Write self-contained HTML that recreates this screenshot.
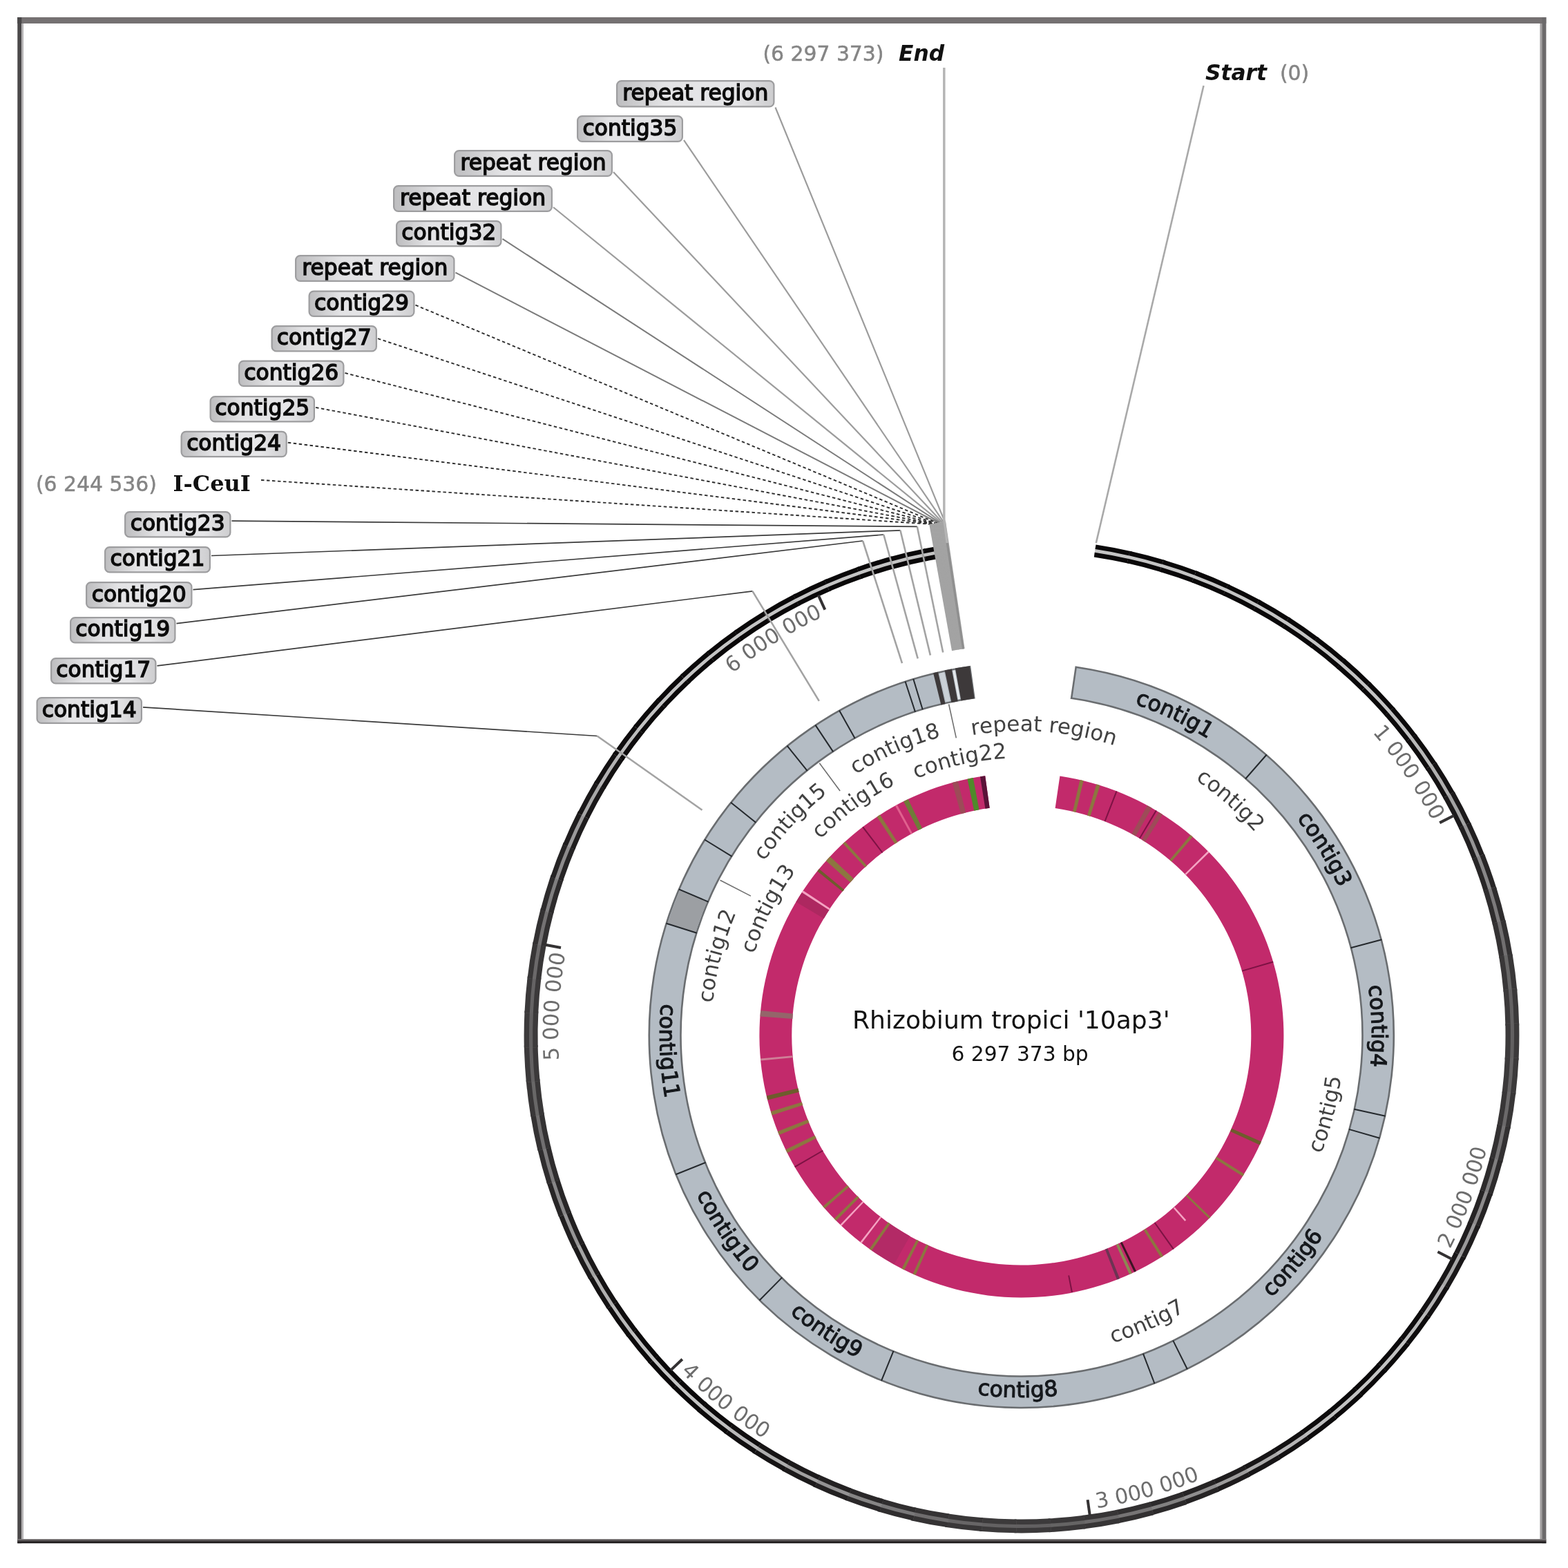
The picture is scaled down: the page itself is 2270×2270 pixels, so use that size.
<!DOCTYPE html>
<html lang="en"><head><meta charset="utf-8"><title>Rhizobium tropici '10ap3' genome map</title>
<style>
html,body{margin:0;padding:0;background:#fff;}
body{width:2270px;height:2270px;overflow:hidden;}
svg{display:block;}
text{font-family:"DejaVu Sans","Liberation Sans",sans-serif;fill:#111;}
.tick{font-size:30.5px;fill:#6d6d6d;}
.ringlab{font-size:31.5px;fill:#15181c;stroke:#15181c;stroke-width:1.1px;}
.inlab{font-size:31px;fill:#424242;}
.lab{font-size:31.3px;fill:#0c0c0c;stroke:#0c0c0c;stroke-width:1.5px;}
.pos{font-size:29.8px;fill:#858585;stroke:#858585;stroke-width:0.5px;}
.enz{font-size:32px;font-weight:bold;fill:#111;font-family:"DejaVu Serif","Liberation Serif",serif;}
.se{font-size:31.3px;font-weight:bold;font-style:italic;fill:#111;}
</style></head>
<body>
<svg width="2270" height="2270" viewBox="0 0 2270 2270">
<defs>
<linearGradient id="fb" x1="0" y1="0" x2="0" y2="1"><stop offset="0" stop-color="#8a8687"/><stop offset="0.55" stop-color="#3a3637"/><stop offset="1" stop-color="#0c0a0b"/></linearGradient>
<path id="tk1" d="M1844.8 936.5A671 671 0 0 1 2073.8 1188.5"/>
<path id="tk2" d="M2099.1 1808.4A693 693 0 0 0 2171.3 1468.4"/>
<path id="tk3" d="M1587.9 2183.4A693 693 0 0 0 1906.5 2044.4"/>
<path id="tk4" d="M985.6 1985.7A693 693 0 0 0 1284 2164"/>
<path id="tk5" d="M845.4 1719.9A671 671 0 0 1 818.6 1380.4"/>
<path id="tk6" d="M930.8 1112.1A671 671 0 0 1 1191.3 892.8"/>
<path id="rl0" d="M1527.6 994.3A507 507 0 0 1 1840.6 1143.6"/>
<path id="rl1" d="M1793.9 1101.7A507 507 0 0 1 1975.6 1397.1"/>
<path id="rl2" d="M1950.7 1313.2A507 507 0 0 1 1959.8 1659.9"/>
<path id="rl3" d="M1741 1952.8A524 524 0 0 0 1971.4 1678.2"/>
<path id="rl4" d="M1294.6 1989.5A524 524 0 0 0 1653.1 1993.2"/>
<path id="rl5" d="M1058.3 1811.4A524 524 0 0 0 1357.6 2008.7"/>
<path id="rl6" d="M969.7 1622.2A524 524 0 0 0 1168 1920.8"/>
<path id="rl7" d="M979.3 1341.4A524 524 0 0 0 994.9 1699.5"/>
<path id="il0" d="M1322.5 1087A440.7 440.7 0 0 1 1694 1114.3"/>
<path id="il1" d="M1606.9 1070A447.7 447.7 0 0 1 1889.9 1321.2"/>
<path id="il2" d="M1838.8 1795.6A466.3 466.3 0 0 0 1937.5 1414"/>
<path id="il3" d="M1467.7 1963.2A464.3 464.3 0 0 0 1827.3 1806"/>
<path id="il4" d="M1036.7 1580.2A449.7 449.7 0 0 1 1132.5 1212.4"/>
<path id="il5" d="M1074.4 1488.4A404.7 404.7 0 0 1 1227.1 1182.3"/>
<path id="il6" d="M1050.6 1362.3A449.7 449.7 0 0 1 1308.4 1082.9"/>
<path id="il7" d="M1122.6 1303.1A406.7 406.7 0 0 1 1400 1100"/>
<path id="il8" d="M1142.1 1204.1A447.7 447.7 0 0 1 1488.4 1051.4"/>
<path id="il9" d="M1233.3 1181.2A401.7 401.7 0 0 1 1564.6 1106.5"/>
<linearGradient id="lg" x1="0" y1="0" x2="1" y2="0"><stop offset="0" stop-color="#bdbdbf"/><stop offset="0.3" stop-color="#e3e3e5"/><stop offset="0.75" stop-color="#e6e6e8"/><stop offset="1" stop-color="#cdcdcf"/></linearGradient>
</defs>
<rect width="2270" height="2270" fill="#fff"/>
<g id="frame">
<rect x="25" y="25" width="2213.4" height="9" fill="#757172"/>
<rect x="25.3" y="25" width="6" height="2209.2" fill="#4a4849"/>
<rect x="31.3" y="34" width="2.7" height="2194" fill="#b4b2b3"/>
<rect x="2229.4" y="34" width="3.2" height="2194" fill="#a19e9f"/>
<rect x="2232.4" y="25" width="6" height="2209.2" fill="#6c6a6b"/>
<rect x="25.3" y="2228" width="2213.1" height="6.2" fill="url(#fb)"/>
</g>
<g id="backbone" fill="none">
<path d="M1585.1 797.4A709.5 709.5 0 0 1 1636.8 807.2" stroke="#c4c4c4" stroke-width="14.1"/>
<path d="M1586 791.8A715.2 715.2 0 0 1 1638.1 801.7" stroke="#0a0809" stroke-width="6.7"/>
<path d="M1584.3 803.1A703.9 703.9 0 0 1 1635.5 812.8" stroke="#0a0809" stroke-width="6.7"/>
<path d="M1633.8 806.5A709.5 709.5 0 0 1 1684.7 819.9" stroke="#c4c4c4" stroke-width="14.1"/>
<path d="M1635 801A715.2 715.2 0 0 1 1686.3 814.5" stroke="#0a0809" stroke-width="6.7"/>
<path d="M1632.5 812.1A703.9 703.9 0 0 1 1683 825.4" stroke="#0a0809" stroke-width="6.7"/>
<path d="M1681.7 819A709.5 709.5 0 0 1 1731.5 835.9" stroke="#c4c4c4" stroke-width="14.1"/>
<path d="M1683.3 813.6A715.2 715.2 0 0 1 1733.6 830.6" stroke="#0a0809" stroke-width="6.7"/>
<path d="M1680.1 824.5A703.9 703.9 0 0 1 1729.5 841.2" stroke="#0a0809" stroke-width="6.7"/>
<path d="M1728.6 834.8A709.5 709.5 0 0 1 1777.2 855.1" stroke="#c4c4c4" stroke-width="14.1"/>
<path d="M1730.7 829.5A715.2 715.2 0 0 1 1779.6 850" stroke="#0a0809" stroke-width="6.7"/>
<path d="M1726.6 840.2A703.9 703.9 0 0 1 1774.8 860.3" stroke="#0a0809" stroke-width="6.7"/>
<path d="M1774.4 853.9A709.5 709.5 0 0 1 1821.4 877.5" stroke="#c4c4c4" stroke-width="14.1"/>
<path d="M1776.7 848.7A715.2 715.2 0 0 1 1824.1 872.5" stroke="#0a0809" stroke-width="6.7"/>
<path d="M1772 859A703.9 703.9 0 0 1 1818.6 882.5" stroke="#0a0809" stroke-width="6.7"/>
<path d="M1818.7 876A709.5 709.5 0 0 1 1863.9 902.9" stroke="#c4c4c4" stroke-width="14.1"/>
<path d="M1821.4 871A715.2 715.2 0 0 1 1867 898.1" stroke="#0a0809" stroke-width="6.7"/>
<path d="M1815.9 881A703.9 703.9 0 0 1 1860.8 907.7" stroke="#0a0809" stroke-width="6.7"/>
<path d="M1861.3 901.2A709.5 709.5 0 0 1 1904.5 931.2" stroke="#c4c4c4" stroke-width="14.1"/>
<path d="M1864.4 896.4A715.2 715.2 0 0 1 1908 926.7" stroke="#0a0809" stroke-width="6.7"/>
<path d="M1858.2 906A703.9 703.9 0 0 1 1901.1 935.8" stroke="#0a0809" stroke-width="6.7"/>
<path d="M1902.1 929.4A709.5 709.5 0 0 1 1943.1 962.3" stroke="#c4c4c4" stroke-width="14.1"/>
<path d="M1905.4 924.8A715.2 715.2 0 0 1 1946.8 958" stroke="#0a0809" stroke-width="6.7"/>
<path d="M1898.7 933.9A703.9 703.9 0 0 1 1939.4 966.6" stroke="#0a0809" stroke-width="6.7"/>
<path d="M1940.8 960.3A709.5 709.5 0 0 1 1979.4 996" stroke="#c4c4c4" stroke-width="14.1"/>
<path d="M1944.5 955.9A715.2 715.2 0 0 1 1983.4 991.9" stroke="#0a0809" stroke-width="6.7"/>
<path d="M1937 964.6A703.9 703.9 0 0 1 1975.4 1000" stroke="#0a0809" stroke-width="6.7"/>
<path d="M1977.2 993.8A709.6 709.6 0 0 1 2013.3 1032.1" stroke="#c4c4c4" stroke-width="14.1"/>
<path d="M1981.2 989.7A715.3 715.3 0 0 1 2017.6 1028.3" stroke="#0a0809" stroke-width="6.7"/>
<path d="M1973.2 997.8A703.9 703.9 0 0 1 2009 1035.8" stroke="#0a0809" stroke-width="6.7"/>
<path d="M2011.3 1029.7A709.6 709.6 0 0 1 2044.6 1070.5" stroke="#c0c0c0" stroke-width="14.2"/>
<path d="M2015.6 1026A715.3 715.3 0 0 1 2049.1 1067" stroke="#0c0a0b" stroke-width="6.7"/>
<path d="M2007 1033.5A703.9 703.9 0 0 1 2040 1073.9" stroke="#0c0a0b" stroke-width="6.7"/>
<path d="M2042.8 1068A709.6 709.6 0 0 1 2073.1 1110.9" stroke="#b9b9b9" stroke-width="14.3"/>
<path d="M2047.3 1064.5A715.4 715.4 0 0 1 2078 1107.8" stroke="#0f0d0e" stroke-width="6.8"/>
<path d="M2038.2 1071.5A703.9 703.9 0 0 1 2068.3 1114.1" stroke="#0f0d0e" stroke-width="6.8"/>
<path d="M2071.5 1108.3A709.7 709.7 0 0 1 2098.8 1153.3" stroke="#b0afaf" stroke-width="14.5"/>
<path d="M2076.4 1105.1A715.6 715.6 0 0 1 2103.9 1150.5" stroke="#141213" stroke-width="6.8"/>
<path d="M2066.7 1111.5A703.9 703.9 0 0 1 2093.8 1156.1" stroke="#141213" stroke-width="6.8"/>
<path d="M2097.4 1150.5A709.8 709.8 0 0 1 2121.6 1197.3" stroke="#a3a3a3" stroke-width="14.7"/>
<path d="M2102.6 1147.6A715.7 715.7 0 0 1 2126.9 1194.8" stroke="#1b191a" stroke-width="6.9"/>
<path d="M2092.3 1153.4A704 704 0 0 1 2116.2 1199.8" stroke="#1b191a" stroke-width="6.9"/>
<path d="M2120.3 1194.5A710 710 0 0 1 2141.1 1242.8" stroke="#969596" stroke-width="14.9"/>
<path d="M2125.7 1191.9A715.9 715.9 0 0 1 2146.7 1240.7" stroke="#211f20" stroke-width="7"/>
<path d="M2115 1197A704 704 0 0 1 2135.6 1245" stroke="#211f20" stroke-width="7"/>
<path d="M2140.1 1239.9A710.1 710.1 0 0 1 2157.5 1289.6" stroke="#888788" stroke-width="15.2"/>
<path d="M2145.8 1237.7A716.1 716.1 0 0 1 2163.3 1287.8" stroke="#282627" stroke-width="7.1"/>
<path d="M2134.5 1242.1A704.1 704.1 0 0 1 2151.8 1291.4" stroke="#282627" stroke-width="7.1"/>
<path d="M2156.7 1286.6A710.2 710.2 0 0 1 2170.6 1337.4" stroke="#7c7a7b" stroke-width="15.4"/>
<path d="M2162.5 1284.8A716.3 716.3 0 0 1 2176.5 1336" stroke="#2f2d2e" stroke-width="7.2"/>
<path d="M2150.9 1288.4A704.1 704.1 0 0 1 2164.6 1338.8" stroke="#2f2d2e" stroke-width="7.2"/>
<path d="M2170 1334.4A710.3 710.3 0 0 1 2180.3 1386" stroke="#716f70" stroke-width="15.6"/>
<path d="M2176 1333A716.5 716.5 0 0 1 2186.4 1385.1" stroke="#343233" stroke-width="7.3"/>
<path d="M2164 1335.8A704.1 704.1 0 0 1 2174.2 1387" stroke="#343233" stroke-width="7.3"/>
<path d="M2179.9 1383A710.4 710.4 0 0 1 2186.5 1435.2" stroke="#686767" stroke-width="15.8"/>
<path d="M2186 1382A716.6 716.6 0 0 1 2192.7 1434.7" stroke="#393738" stroke-width="7.4"/>
<path d="M2173.7 1384A704.2 704.2 0 0 1 2180.3 1435.8" stroke="#393738" stroke-width="7.4"/>
<path d="M2186.3 1432.1A710.4 710.4 0 0 1 2189.3 1484.7" stroke="#636162" stroke-width="15.9"/>
<path d="M2192.5 1431.6A716.7 716.7 0 0 1 2195.5 1484.6" stroke="#3b393a" stroke-width="7.4"/>
<path d="M2180.1 1432.7A704.2 704.2 0 0 1 2183.1 1484.9" stroke="#3b393a" stroke-width="7.4"/>
<path d="M2189.2 1481.6A710.4 710.4 0 0 1 2188.6 1534.3" stroke="#626061" stroke-width="15.9"/>
<path d="M2195.5 1481.5A716.7 716.7 0 0 1 2194.8 1534.6" stroke="#3c3a3b" stroke-width="7.4"/>
<path d="M2183 1481.8A704.2 704.2 0 0 1 2182.3 1534" stroke="#3c3a3b" stroke-width="7.4"/>
<path d="M2188.7 1531.2A710.4 710.4 0 0 1 2184.4 1583.7" stroke="#656364" stroke-width="15.9"/>
<path d="M2194.9 1531.5A716.7 716.7 0 0 1 2190.5 1584.5" stroke="#3b393a" stroke-width="7.4"/>
<path d="M2182.5 1530.9A704.2 704.2 0 0 1 2178.2 1583" stroke="#3b393a" stroke-width="7.4"/>
<path d="M2184.7 1580.6A710.4 710.4 0 0 1 2176.7 1632.7" stroke="#6b696a" stroke-width="15.7"/>
<path d="M2190.8 1581.4A716.6 716.6 0 0 1 2182.8 1633.9" stroke="#383637" stroke-width="7.3"/>
<path d="M2178.5 1579.9A704.2 704.2 0 0 1 2170.6 1631.6" stroke="#383637" stroke-width="7.3"/>
<path d="M2177.2 1629.7A710.3 710.3 0 0 1 2165.6 1681" stroke="#747273" stroke-width="15.6"/>
<path d="M2183.2 1630.8A716.4 716.4 0 0 1 2171.5 1682.6" stroke="#333132" stroke-width="7.3"/>
<path d="M2171.1 1628.5A704.1 704.1 0 0 1 2159.6 1679.5" stroke="#333132" stroke-width="7.3"/>
<path d="M2166.2 1678A710.2 710.2 0 0 1 2151.1 1728.5" stroke="#7f7e7f" stroke-width="15.4"/>
<path d="M2172.1 1679.5A716.3 716.3 0 0 1 2156.9 1730.4" stroke="#2d2b2c" stroke-width="7.2"/>
<path d="M2160.4 1676.5A704.1 704.1 0 0 1 2145.3 1726.5" stroke="#2d2b2c" stroke-width="7.2"/>
<path d="M2152 1725.5A710.1 710.1 0 0 1 2133.3 1774.7" stroke="#8d8b8c" stroke-width="15.1"/>
<path d="M2157.7 1727.4A716.1 716.1 0 0 1 2138.9 1777.1" stroke="#262425" stroke-width="7.1"/>
<path d="M2146.3 1723.6A704 704 0 0 1 2127.8 1772.4" stroke="#262425" stroke-width="7.1"/>
<path d="M2134.4 1771.8A709.9 709.9 0 0 1 2112.4 1819.6" stroke="#9a999a" stroke-width="14.9"/>
<path d="M2139.9 1774.1A715.9 715.9 0 0 1 2117.7 1822.3" stroke="#1f1d1e" stroke-width="7"/>
<path d="M2128.9 1769.5A704 704 0 0 1 2107.1 1817" stroke="#1f1d1e" stroke-width="7"/>
<path d="M2113.7 1816.8A709.8 709.8 0 0 1 2088.4 1863" stroke="#a7a7a7" stroke-width="14.6"/>
<path d="M2118.9 1819.5A715.7 715.7 0 0 1 2093.4 1866" stroke="#191718" stroke-width="6.9"/>
<path d="M2108.4 1814.2A704 704 0 0 1 2083.4 1860" stroke="#191718" stroke-width="6.9"/>
<path d="M2089.9 1860.3A709.7 709.7 0 0 1 2061.4 1904.5" stroke="#b3b2b3" stroke-width="14.4"/>
<path d="M2094.9 1863.2A715.5 715.5 0 0 1 2066.2 1907.9" stroke="#131112" stroke-width="6.8"/>
<path d="M2084.9 1857.3A703.9 703.9 0 0 1 2056.7 1901.2" stroke="#131112" stroke-width="6.8"/>
<path d="M2063.1 1902A709.6 709.6 0 0 1 2031.6 1944.1" stroke="#bcbcbc" stroke-width="14.3"/>
<path d="M2067.8 1905.2A715.4 715.4 0 0 1 2036.1 1947.7" stroke="#0e0c0d" stroke-width="6.8"/>
<path d="M2058.4 1898.7A703.9 703.9 0 0 1 2027.2 1940.5" stroke="#0e0c0d" stroke-width="6.8"/>
<path d="M2033.5 1941.7A709.6 709.6 0 0 1 1999.2 1981.6" stroke="#c2c2c2" stroke-width="14.1"/>
<path d="M2038 1945.3A715.3 715.3 0 0 1 2003.4 1985.5" stroke="#0b090a" stroke-width="6.7"/>
<path d="M2029.1 1938.1A703.9 703.9 0 0 1 1995 1977.7" stroke="#0b090a" stroke-width="6.7"/>
<path d="M2001.3 1979.3A709.6 709.6 0 0 1 1964.3 2016.7" stroke="#c4c4c4" stroke-width="14.1"/>
<path d="M2005.5 1983.1A715.3 715.3 0 0 1 1968.2 2020.8" stroke="#0a0809" stroke-width="6.7"/>
<path d="M1997.1 1975.4A703.9 703.9 0 0 1 1960.4 2012.5" stroke="#0a0809" stroke-width="6.7"/>
<path d="M1966.5 2014.6A709.6 709.6 0 0 1 1927 2049.3" stroke="#c2c2c2" stroke-width="14.1"/>
<path d="M1970.5 2018.7A715.3 715.3 0 0 1 1930.6 2053.7" stroke="#0b090a" stroke-width="6.7"/>
<path d="M1962.6 2010.4A703.9 703.9 0 0 1 1923.4 2044.8" stroke="#0b090a" stroke-width="6.7"/>
<path d="M1929.4 2047.3A709.6 709.6 0 0 1 1887.5 2079.2" stroke="#bdbdbd" stroke-width="14.2"/>
<path d="M1933.1 2051.8A715.3 715.3 0 0 1 1890.8 2083.9" stroke="#0d0b0c" stroke-width="6.7"/>
<path d="M1925.8 2042.9A703.9 703.9 0 0 1 1884.2 2074.5" stroke="#0d0b0c" stroke-width="6.7"/>
<path d="M1890.1 2077.5A709.7 709.7 0 0 1 1846.1 2106.4" stroke="#b5b4b5" stroke-width="14.4"/>
<path d="M1893.5 2082.2A715.5 715.5 0 0 1 1849.1 2111.3" stroke="#121011" stroke-width="6.8"/>
<path d="M1886.8 2072.8A703.9 703.9 0 0 1 1843.1 2101.4" stroke="#121011" stroke-width="6.8"/>
<path d="M1848.8 2104.8A709.8 709.8 0 0 1 1802.9 2130.6" stroke="#aaa9a9" stroke-width="14.6"/>
<path d="M1851.9 2109.8A715.6 715.6 0 0 1 1805.6 2135.8" stroke="#171516" stroke-width="6.9"/>
<path d="M1845.8 2099.9A703.9 703.9 0 0 1 1800.2 2125.4" stroke="#171516" stroke-width="6.9"/>
<path d="M1805.7 2129.3A709.9 709.9 0 0 1 1758.1 2151.7" stroke="#9d9c9c" stroke-width="14.8"/>
<path d="M1808.4 2134.5A715.8 715.8 0 0 1 1760.4 2157.2" stroke="#1e1c1d" stroke-width="7"/>
<path d="M1803 2124A704 704 0 0 1 1755.8 2146.3" stroke="#1e1c1d" stroke-width="7"/>
<path d="M1761 2150.6A710 710 0 0 1 1711.9 2169.7" stroke="#8f8e8f" stroke-width="15.1"/>
<path d="M1763.4 2156.1A716 716 0 0 1 1713.9 2175.4" stroke="#252324" stroke-width="7.1"/>
<path d="M1758.6 2145.1A704 704 0 0 1 1710 2164.1" stroke="#252324" stroke-width="7.1"/>
<path d="M1714.9 2168.8A710.2 710.2 0 0 1 1664.6 2184.5" stroke="#828181" stroke-width="15.3"/>
<path d="M1716.9 2174.6A716.2 716.2 0 0 1 1666.2 2190.3" stroke="#2c2a2b" stroke-width="7.2"/>
<path d="M1712.9 2163.1A704.1 704.1 0 0 1 1663 2178.6" stroke="#2c2a2b" stroke-width="7.2"/>
<path d="M1667.6 2183.8A710.3 710.3 0 0 1 1616.4 2195.9" stroke="#767475" stroke-width="15.5"/>
<path d="M1669.2 2189.7A716.4 716.4 0 0 1 1617.5 2201.9" stroke="#323031" stroke-width="7.3"/>
<path d="M1666 2177.8A704.1 704.1 0 0 1 1615.2 2189.8" stroke="#323031" stroke-width="7.3"/>
<path d="M1619.4 2195.3A710.4 710.4 0 0 1 1567.4 2203.8" stroke="#6c6a6b" stroke-width="15.7"/>
<path d="M1620.6 2201.4A716.5 716.5 0 0 1 1568.2 2210" stroke="#373536" stroke-width="7.3"/>
<path d="M1618.2 2189.3A704.2 704.2 0 0 1 1566.6 2197.7" stroke="#373536" stroke-width="7.3"/>
<path d="M1570.5 2203.5A710.4 710.4 0 0 1 1518 2208.3" stroke="#656464" stroke-width="15.8"/>
<path d="M1571.3 2209.7A716.6 716.6 0 0 1 1518.4 2214.6" stroke="#3a3839" stroke-width="7.4"/>
<path d="M1569.7 2197.3A704.2 704.2 0 0 1 1517.7 2202.1" stroke="#3a3839" stroke-width="7.4"/>
<path d="M1521.1 2208.2A710.4 710.4 0 0 1 1468.5 2209.4" stroke="#626061" stroke-width="15.9"/>
<path d="M1521.5 2214.4A716.7 716.7 0 0 1 1468.4 2215.6" stroke="#3c3a3b" stroke-width="7.4"/>
<path d="M1520.8 2202A704.2 704.2 0 0 1 1468.6 2203.1" stroke="#3c3a3b" stroke-width="7.4"/>
<path d="M1471.6 2209.4A710.4 710.4 0 0 1 1418.9 2206.9" stroke="#636162" stroke-width="15.9"/>
<path d="M1471.5 2215.6A716.7 716.7 0 0 1 1418.4 2213.1" stroke="#3c3a3b" stroke-width="7.4"/>
<path d="M1471.6 2203.2A704.2 704.2 0 0 1 1419.5 2200.7" stroke="#3c3a3b" stroke-width="7.4"/>
<path d="M1422 2207.1A710.4 710.4 0 0 1 1369.7 2200.9" stroke="#676566" stroke-width="15.8"/>
<path d="M1421.5 2213.3A716.6 716.6 0 0 1 1368.7 2207.1" stroke="#393738" stroke-width="7.4"/>
<path d="M1422.5 2200.9A704.2 704.2 0 0 1 1370.7 2194.8" stroke="#393738" stroke-width="7.4"/>
<path d="M1372.8 2201.3A710.3 710.3 0 0 1 1321 2191.5" stroke="#6f6d6e" stroke-width="15.7"/>
<path d="M1371.9 2207.5A716.5 716.5 0 0 1 1319.6 2197.6" stroke="#353334" stroke-width="7.3"/>
<path d="M1373.7 2195.2A704.2 704.2 0 0 1 1322.4 2185.5" stroke="#353334" stroke-width="7.3"/>
<path d="M1324.1 2192.1A710.2 710.2 0 0 1 1273.1 2178.7" stroke="#797879" stroke-width="15.5"/>
<path d="M1322.7 2198.1A716.4 716.4 0 0 1 1271.4 2184.6" stroke="#302e2f" stroke-width="7.2"/>
<path d="M1325.4 2186.2A704.1 704.1 0 0 1 1274.9 2172.9" stroke="#302e2f" stroke-width="7.2"/>
<path d="M1276.1 2179.5A710.1 710.1 0 0 1 1226.3 2162.6" stroke="#868585" stroke-width="15.2"/>
<path d="M1274.4 2185.3A716.2 716.2 0 0 1 1224.1 2168.3" stroke="#2a2829" stroke-width="7.1"/>
<path d="M1277.9 2173.7A704.1 704.1 0 0 1 1228.4 2157" stroke="#2a2829" stroke-width="7.1"/>
<path d="M1229.2 2163.6A710 710 0 0 1 1180.6 2143.3" stroke="#939293" stroke-width="15"/>
<path d="M1227.1 2169.2A716 716 0 0 1 1178.1 2148.7" stroke="#232122" stroke-width="7"/>
<path d="M1231.3 2158A704 704 0 0 1 1183.1 2137.8" stroke="#232122" stroke-width="7"/>
<path d="M1183.5 2144.4A709.9 709.9 0 0 1 1136.5 2120.8" stroke="#a1a0a0" stroke-width="14.7"/>
<path d="M1181 2149.8A715.8 715.8 0 0 1 1133.6 2125.9" stroke="#1c1a1b" stroke-width="7"/>
<path d="M1185.9 2139.1A704 704 0 0 1 1139.3 2115.6" stroke="#1c1a1b" stroke-width="7"/>
<path d="M1139.2 2122.2A709.8 709.8 0 0 1 1094 2095.3" stroke="#adadad" stroke-width="14.5"/>
<path d="M1136.5 2127.3A715.6 715.6 0 0 1 1090.8 2100.2" stroke="#161415" stroke-width="6.9"/>
<path d="M1142 2117A703.9 703.9 0 0 1 1097.2 2090.4" stroke="#161415" stroke-width="6.9"/>
<path d="M1096.7 2096.9A709.7 709.7 0 0 1 1053.4 2066.9" stroke="#b8b7b8" stroke-width="14.3"/>
<path d="M1093.5 2101.7A715.4 715.4 0 0 1 1049.9 2071.5" stroke="#100e0f" stroke-width="6.8"/>
<path d="M1099.8 2092A703.9 703.9 0 0 1 1056.9 2062.3" stroke="#100e0f" stroke-width="6.8"/>
<path d="M1055.9 2068.7A709.6 709.6 0 0 1 1014.9 2035.8" stroke="#bfbfbf" stroke-width="14.2"/>
<path d="M1052.5 2073.3A715.3 715.3 0 0 1 1011.1 2040.1" stroke="#0c0a0b" stroke-width="6.7"/>
<path d="M1059.3 2064.1A703.9 703.9 0 0 1 1018.6 2031.4" stroke="#0c0a0b" stroke-width="6.7"/>
<path d="M1017.2 2037.7A709.6 709.6 0 0 1 978.6 2002" stroke="#c3c3c3" stroke-width="14.1"/>
<path d="M1013.5 2042.1A715.3 715.3 0 0 1 974.6 2006.1" stroke="#0a0809" stroke-width="6.7"/>
<path d="M1021 2033.4A703.9 703.9 0 0 1 982.6 1998" stroke="#0a0809" stroke-width="6.7"/>
<path d="M980.8 2004.2A709.6 709.6 0 0 1 944.7 1965.9" stroke="#c4c4c4" stroke-width="14.1"/>
<path d="M976.8 2008.3A715.3 715.3 0 0 1 940.4 1969.7" stroke="#0a0809" stroke-width="6.7"/>
<path d="M984.8 2000.2A703.9 703.9 0 0 1 949 1962.2" stroke="#0a0809" stroke-width="6.7"/>
<path d="M946.7 1968.3A709.6 709.6 0 0 1 913.4 1927.5" stroke="#c0c0c0" stroke-width="14.2"/>
<path d="M942.4 1972A715.3 715.3 0 0 1 908.9 1931" stroke="#0c0a0b" stroke-width="6.7"/>
<path d="M951 1964.5A703.9 703.9 0 0 1 918 1924.1" stroke="#0c0a0b" stroke-width="6.7"/>
<path d="M915.2 1930A709.6 709.6 0 0 1 884.9 1887.1" stroke="#b9b9b9" stroke-width="14.3"/>
<path d="M910.7 1933.5A715.4 715.4 0 0 1 880 1890.2" stroke="#0f0d0e" stroke-width="6.8"/>
<path d="M919.8 1926.5A703.9 703.9 0 0 1 889.7 1883.9" stroke="#0f0d0e" stroke-width="6.8"/>
<path d="M886.5 1889.7A709.7 709.7 0 0 1 859.2 1844.7" stroke="#b0afaf" stroke-width="14.5"/>
<path d="M881.6 1892.9A715.6 715.6 0 0 1 854.1 1847.5" stroke="#141213" stroke-width="6.8"/>
<path d="M891.3 1886.5A703.9 703.9 0 0 1 864.2 1841.9" stroke="#141213" stroke-width="6.8"/>
<path d="M860.6 1847.5A709.8 709.8 0 0 1 836.4 1800.7" stroke="#a3a3a3" stroke-width="14.7"/>
<path d="M855.4 1850.4A715.7 715.7 0 0 1 831.1 1803.2" stroke="#1b191a" stroke-width="6.9"/>
<path d="M865.7 1844.6A704 704 0 0 1 841.8 1798.2" stroke="#1b191a" stroke-width="6.9"/>
<path d="M837.7 1803.5A710 710 0 0 1 816.9 1755.2" stroke="#969596" stroke-width="14.9"/>
<path d="M832.3 1806.1A715.9 715.9 0 0 1 811.3 1757.3" stroke="#211f20" stroke-width="7"/>
<path d="M843 1801A704 704 0 0 1 822.4 1753" stroke="#211f20" stroke-width="7"/>
<path d="M817.9 1758.1A710.1 710.1 0 0 1 800.5 1708.4" stroke="#888788" stroke-width="15.2"/>
<path d="M812.2 1760.3A716.1 716.1 0 0 1 794.7 1710.2" stroke="#282627" stroke-width="7.1"/>
<path d="M823.5 1755.9A704.1 704.1 0 0 1 806.2 1706.6" stroke="#282627" stroke-width="7.1"/>
<path d="M801.3 1711.4A710.2 710.2 0 0 1 787.4 1660.6" stroke="#7c7a7b" stroke-width="15.4"/>
<path d="M795.5 1713.2A716.3 716.3 0 0 1 781.5 1662" stroke="#2f2d2e" stroke-width="7.2"/>
<path d="M807.1 1709.6A704.1 704.1 0 0 1 793.4 1659.2" stroke="#2f2d2e" stroke-width="7.2"/>
<path d="M788 1663.6A710.3 710.3 0 0 1 777.7 1612" stroke="#716f70" stroke-width="15.6"/>
<path d="M782 1665A716.5 716.5 0 0 1 771.6 1612.9" stroke="#343233" stroke-width="7.3"/>
<path d="M794 1662.2A704.1 704.1 0 0 1 783.8 1611" stroke="#343233" stroke-width="7.3"/>
<path d="M778.1 1615A710.4 710.4 0 0 1 771.5 1562.8" stroke="#686767" stroke-width="15.8"/>
<path d="M772 1616A716.6 716.6 0 0 1 765.3 1563.3" stroke="#393738" stroke-width="7.4"/>
<path d="M784.3 1614A704.2 704.2 0 0 1 777.7 1562.2" stroke="#393738" stroke-width="7.4"/>
<path d="M771.7 1565.9A710.4 710.4 0 0 1 768.7 1513.3" stroke="#636162" stroke-width="15.9"/>
<path d="M765.5 1566.4A716.7 716.7 0 0 1 762.5 1513.4" stroke="#3b393a" stroke-width="7.4"/>
<path d="M777.9 1565.3A704.2 704.2 0 0 1 774.9 1513.1" stroke="#3b393a" stroke-width="7.4"/>
<path d="M768.8 1516.4A710.4 710.4 0 0 1 769.4 1463.7" stroke="#626061" stroke-width="15.9"/>
<path d="M762.5 1516.5A716.7 716.7 0 0 1 763.2 1463.4" stroke="#3c3a3b" stroke-width="7.4"/>
<path d="M775 1516.2A704.2 704.2 0 0 1 775.7 1464" stroke="#3c3a3b" stroke-width="7.4"/>
<path d="M769.3 1466.8A710.4 710.4 0 0 1 773.6 1414.3" stroke="#656364" stroke-width="15.9"/>
<path d="M763.1 1466.5A716.7 716.7 0 0 1 767.5 1413.5" stroke="#3b393a" stroke-width="7.4"/>
<path d="M775.5 1467.1A704.2 704.2 0 0 1 779.8 1415" stroke="#3b393a" stroke-width="7.4"/>
<path d="M773.3 1417.4A710.4 710.4 0 0 1 781.3 1365.3" stroke="#6b696a" stroke-width="15.7"/>
<path d="M767.2 1416.6A716.6 716.6 0 0 1 775.2 1364.1" stroke="#383637" stroke-width="7.3"/>
<path d="M779.5 1418.1A704.2 704.2 0 0 1 787.4 1366.4" stroke="#383637" stroke-width="7.3"/>
<path d="M780.8 1368.3A710.3 710.3 0 0 1 792.4 1317" stroke="#747273" stroke-width="15.6"/>
<path d="M774.8 1367.2A716.4 716.4 0 0 1 786.5 1315.4" stroke="#333132" stroke-width="7.3"/>
<path d="M786.9 1369.5A704.1 704.1 0 0 1 798.4 1318.5" stroke="#333132" stroke-width="7.3"/>
<path d="M791.8 1320A710.2 710.2 0 0 1 806.9 1269.5" stroke="#7f7e7f" stroke-width="15.4"/>
<path d="M785.9 1318.5A716.3 716.3 0 0 1 801.1 1267.6" stroke="#2d2b2c" stroke-width="7.2"/>
<path d="M797.6 1321.5A704.1 704.1 0 0 1 812.7 1271.5" stroke="#2d2b2c" stroke-width="7.2"/>
<path d="M806 1272.5A710.1 710.1 0 0 1 824.7 1223.3" stroke="#8d8b8c" stroke-width="15.1"/>
<path d="M800.3 1270.6A716.1 716.1 0 0 1 819.1 1220.9" stroke="#262425" stroke-width="7.1"/>
<path d="M811.7 1274.4A704 704 0 0 1 830.2 1225.6" stroke="#262425" stroke-width="7.1"/>
<path d="M823.6 1226.2A709.9 709.9 0 0 1 845.6 1178.4" stroke="#9a999a" stroke-width="14.9"/>
<path d="M818.1 1223.9A715.9 715.9 0 0 1 840.3 1175.7" stroke="#1f1d1e" stroke-width="7"/>
<path d="M829.1 1228.5A704 704 0 0 1 850.9 1181" stroke="#1f1d1e" stroke-width="7"/>
<path d="M844.3 1181.2A709.8 709.8 0 0 1 869.6 1135" stroke="#a7a7a7" stroke-width="14.6"/>
<path d="M839.1 1178.5A715.7 715.7 0 0 1 864.6 1132" stroke="#191718" stroke-width="6.9"/>
<path d="M849.6 1183.8A704 704 0 0 1 874.6 1138" stroke="#191718" stroke-width="6.9"/>
<path d="M868.1 1137.7A709.7 709.7 0 0 1 896.6 1093.5" stroke="#b3b2b3" stroke-width="14.4"/>
<path d="M863.1 1134.8A715.5 715.5 0 0 1 891.8 1090.1" stroke="#131112" stroke-width="6.8"/>
<path d="M873.1 1140.7A703.9 703.9 0 0 1 901.3 1096.8" stroke="#131112" stroke-width="6.8"/>
<path d="M894.9 1096A709.6 709.6 0 0 1 926.4 1053.9" stroke="#bcbcbc" stroke-width="14.3"/>
<path d="M890.2 1092.8A715.4 715.4 0 0 1 921.9 1050.3" stroke="#0e0c0d" stroke-width="6.8"/>
<path d="M899.6 1099.3A703.9 703.9 0 0 1 930.8 1057.5" stroke="#0e0c0d" stroke-width="6.8"/>
<path d="M924.5 1056.3A709.6 709.6 0 0 1 958.8 1016.4" stroke="#c2c2c2" stroke-width="14.1"/>
<path d="M920 1052.7A715.3 715.3 0 0 1 954.6 1012.5" stroke="#0b090a" stroke-width="6.7"/>
<path d="M928.9 1059.9A703.9 703.9 0 0 1 963 1020.3" stroke="#0b090a" stroke-width="6.7"/>
<path d="M956.7 1018.7A709.6 709.6 0 0 1 993.7 981.3" stroke="#c4c4c4" stroke-width="14.1"/>
<path d="M952.5 1014.9A715.3 715.3 0 0 1 989.8 977.2" stroke="#0a0809" stroke-width="6.7"/>
<path d="M960.9 1022.6A703.9 703.9 0 0 1 997.6 985.5" stroke="#0a0809" stroke-width="6.7"/>
<path d="M991.5 983.5A709.5 709.5 0 0 1 1031 948.7" stroke="#c4c4c4" stroke-width="14.1"/>
<path d="M987.6 979.3A715.2 715.2 0 0 1 1027.4 944.3" stroke="#0a0809" stroke-width="6.7"/>
<path d="M995.4 987.6A703.9 703.9 0 0 1 1034.6 953.2" stroke="#0a0809" stroke-width="6.7"/>
<path d="M1028.6 950.7A709.5 709.5 0 0 1 1070.5 918.8" stroke="#c4c4c4" stroke-width="14.1"/>
<path d="M1025 946.3A715.2 715.2 0 0 1 1067.2 914.2" stroke="#0a0809" stroke-width="6.7"/>
<path d="M1032.2 955.1A703.9 703.9 0 0 1 1073.8 923.5" stroke="#0a0809" stroke-width="6.7"/>
<path d="M1068 920.6A709.5 709.5 0 0 1 1112 891.8" stroke="#c4c4c4" stroke-width="14.1"/>
<path d="M1064.7 916A715.2 715.2 0 0 1 1109 886.9" stroke="#0a0809" stroke-width="6.7"/>
<path d="M1071.3 925.3A703.9 703.9 0 0 1 1114.9 896.6" stroke="#0a0809" stroke-width="6.7"/>
<path d="M1109.3 893.4A709.5 709.5 0 0 1 1155.2 867.6" stroke="#c4c4c4" stroke-width="14.1"/>
<path d="M1106.3 888.5A715.2 715.2 0 0 1 1152.6 862.6" stroke="#0a0809" stroke-width="6.7"/>
<path d="M1112.3 898.2A703.9 703.9 0 0 1 1157.8 872.7" stroke="#0a0809" stroke-width="6.7"/>
<path d="M1152.5 869.1A709.5 709.5 0 0 1 1200 846.6" stroke="#c4c4c4" stroke-width="14.1"/>
<path d="M1149.8 864A715.2 715.2 0 0 1 1197.8 841.3" stroke="#0a0809" stroke-width="6.7"/>
<path d="M1155.1 874.1A703.9 703.9 0 0 1 1202.3 851.8" stroke="#0a0809" stroke-width="6.7"/>
<path d="M1197.2 847.8A709.5 709.5 0 0 1 1246.2 828.7" stroke="#c4c4c4" stroke-width="14.1"/>
<path d="M1194.9 842.6A715.2 715.2 0 0 1 1244.4 823.3" stroke="#0a0809" stroke-width="6.7"/>
<path d="M1199.5 853A703.9 703.9 0 0 1 1248.1 834.1" stroke="#0a0809" stroke-width="6.7"/>
<path d="M1243.3 829.7A709.5 709.5 0 0 1 1293.6 814.1" stroke="#c4c4c4" stroke-width="14.1"/>
<path d="M1241.4 824.4A715.2 715.2 0 0 1 1292.1 808.6" stroke="#0a0809" stroke-width="6.7"/>
<path d="M1245.2 835.1A703.9 703.9 0 0 1 1295.1 819.6" stroke="#0a0809" stroke-width="6.7"/>
<path d="M1290.6 814.9A709.5 709.5 0 0 1 1341.8 802.8" stroke="#c4c4c4" stroke-width="14.1"/>
<path d="M1289.1 809.4A715.2 715.2 0 0 1 1340.7 797.3" stroke="#0a0809" stroke-width="6.7"/>
<path d="M1292.1 820.4A703.9 703.9 0 0 1 1342.9 808.4" stroke="#0a0809" stroke-width="6.7"/>
<path d="M1338.8 803.4A709.5 709.5 0 0 1 1372.9 797.4" stroke="#c4c4c4" stroke-width="14.1"/>
<path d="M1337.6 797.9A715.2 715.2 0 0 1 1372 791.8" stroke="#0a0809" stroke-width="6.7"/>
<path d="M1339.9 809A703.9 703.9 0 0 1 1373.7 803.1" stroke="#0a0809" stroke-width="6.7"/>
</g>
<g id="ticks">
<line x1="2104.7" y1="1180.7" x2="2084.2" y2="1191.1" stroke="#343233" stroke-width="4"/>
<text class="tick" text-anchor="end"><textPath href="#tk1" startOffset="100%">1 000 000</textPath></text>
<line x1="2101.8" y1="1822.8" x2="2081.4" y2="1812.2" stroke="#343233" stroke-width="4"/>
<text class="tick"><textPath href="#tk2" startOffset="0">2 000 000</textPath></text>
<line x1="1577.8" y1="2194" x2="1574.6" y2="2171.2" stroke="#343233" stroke-width="4"/>
<text class="tick"><textPath href="#tk3" startOffset="0">3 000 000</textPath></text>
<line x1="971.1" y1="1983.6" x2="987.8" y2="1967.8" stroke="#343233" stroke-width="4"/>
<text class="tick"><textPath href="#tk4" startOffset="0">4 000 000</textPath></text>
<line x1="789.4" y1="1367.7" x2="812" y2="1372" stroke="#343233" stroke-width="4"/>
<text class="tick" text-anchor="end"><textPath href="#tk5" startOffset="100%">5 000 000</textPath></text>
<line x1="1184.7" y1="861.7" x2="1194.3" y2="882.6" stroke="#343233" stroke-width="4"/>
<text class="tick" text-anchor="end"><textPath href="#tk6" startOffset="100%">6 000 000</textPath></text>
</g>
<g id="contigs">
<path d="M1557.7 965.8A539 539 0 1 1 1404 965.2L1410.3 1010.3A493.5 493.5 0 1 0 1551.1 1010.8Z" fill="#b4bcc4" stroke="#6a6d70" stroke-width="2.6"/>
<path d="M966.2 1337.3A537.7 537.7 0 0 1 984.4 1288L1023.9 1304.9A494.8 494.8 0 0 0 1007.1 1350.2Z" fill="#9c9fa3"/>
<g stroke="#24282c" stroke-width="2">
<line x1="1803.1" y1="1127.5" x2="1833.7" y2="1092.5"/>
<line x1="1955.4" y1="1372.2" x2="2000.4" y2="1360.3"/>
<line x1="1960.3" y1="1605.7" x2="2005.7" y2="1615.8"/>
<line x1="1952.9" y1="1634.9" x2="1997.6" y2="1647.7"/>
<line x1="1698.2" y1="1940.6" x2="1718.9" y2="1982.2"/>
<line x1="1654.9" y1="1959.6" x2="1671.5" y2="2003"/>
<line x1="1293.5" y1="1955.8" x2="1276" y2="1998.9"/>
<line x1="1132.2" y1="1849.4" x2="1099.5" y2="1882.5"/>
<line x1="1021.6" y1="1682.9" x2="978.4" y2="1700.2"/>
<line x1="1008.8" y1="1350.8" x2="964.5" y2="1336.8"/>
<line x1="1025.5" y1="1305.6" x2="982.8" y2="1287.3"/>
<line x1="1059.6" y1="1239.9" x2="1020" y2="1215.5"/>
<line x1="1094.2" y1="1190.8" x2="1058" y2="1161.7"/>
<line x1="1168.7" y1="1115.9" x2="1139.5" y2="1079.7"/>
<line x1="1206.2" y1="1088.4" x2="1180.4" y2="1049.6"/>
<line x1="1237.7" y1="1069.1" x2="1215" y2="1028.5"/>
<line x1="1325" y1="1030.7" x2="1310.5" y2="986.5"/>
<line x1="1335.7" y1="1027.3" x2="1322.2" y2="982.8"/>
</g>
<path d="M1351.1 974.4A540 540 0 0 1 1358 972.7L1368.6 1019A492.5 492.5 0 0 0 1362.4 1020.5Z" fill="#3d393a"/>
<path d="M1367.6 970.6A540 540 0 0 1 1377.8 968.6L1386.7 1015.2A492.5 492.5 0 0 0 1377.4 1017.1Z" fill="#3d393a"/>
<path d="M1382.9 967.6A540 540 0 0 1 1403.8 964.3L1410.5 1011.3A492.5 492.5 0 0 0 1391.4 1014.4Z" fill="#3d393a"/>
<path d="M1359.9 974.9A537.5 537.5 0 0 1 1366.8 973.3L1375.7 1014.9A495 495 0 0 0 1369.3 1016.3Z" fill="#c9d0d6"/>
<path d="M1379.2 970.8A537.5 537.5 0 0 1 1382.4 970.2L1390.1 1012.1A495 495 0 0 0 1387.1 1012.6Z" fill="#e4e8eb"/>
</g>
<g id="ringlabels">
<text class="ringlab" text-anchor="middle"><textPath href="#rl0" startOffset="50%">contig1</textPath></text>
<text class="ringlab" text-anchor="middle"><textPath href="#rl1" startOffset="50%">contig3</textPath></text>
<text class="ringlab" text-anchor="middle"><textPath href="#rl2" startOffset="50%">contig4</textPath></text>
<text class="ringlab" text-anchor="middle"><textPath href="#rl3" startOffset="50%">contig6</textPath></text>
<text class="ringlab" text-anchor="middle"><textPath href="#rl4" startOffset="50%">contig8</textPath></text>
<text class="ringlab" text-anchor="middle"><textPath href="#rl5" startOffset="50%">contig9</textPath></text>
<text class="ringlab" text-anchor="middle"><textPath href="#rl6" startOffset="50%">contig10</textPath></text>
<text class="ringlab" text-anchor="middle"><textPath href="#rl7" startOffset="50%">contig11</textPath></text>
</g>
<g id="innerlabels">
<text class="inlab" text-anchor="middle"><textPath href="#il0" startOffset="50%">repeat region</textPath></text>
<text class="inlab" text-anchor="middle"><textPath href="#il1" startOffset="50%">contig2</textPath></text>
<text class="inlab" text-anchor="middle"><textPath href="#il2" startOffset="50%">contig5</textPath></text>
<text class="inlab" text-anchor="middle"><textPath href="#il3" startOffset="50%">contig7</textPath></text>
<text class="inlab" text-anchor="middle"><textPath href="#il4" startOffset="50%">contig12</textPath></text>
<text class="inlab" text-anchor="middle"><textPath href="#il5" startOffset="50%">contig13</textPath></text>
<text class="inlab" text-anchor="middle"><textPath href="#il6" startOffset="50%">contig15</textPath></text>
<text class="inlab" text-anchor="middle"><textPath href="#il7" startOffset="50%">contig16</textPath></text>
<text class="inlab" text-anchor="middle"><textPath href="#il8" startOffset="50%">contig18</textPath></text>
<text class="inlab" text-anchor="middle"><textPath href="#il9" startOffset="50%">contig22</textPath></text>
<g stroke="#6f6f6f" stroke-width="1.6">
<line x1="1042.5" y1="1274.2" x2="1086.9" y2="1297.1"/>
<line x1="1186.3" y1="1104.8" x2="1216.1" y2="1145"/>
<line x1="1373.6" y1="1019.5" x2="1384.3" y2="1068.3"/>
</g>
</g>
<g id="inner-ring">
<path d="M1534.4 1123.6A379.5 379.5 0 1 1 1426.2 1123.2L1432.7 1169.7A332.5 332.5 0 1 0 1527.6 1170.1Z" fill="#c22a6b"/>
<path d="M1563.4 1129A379.5 379.5 0 0 1 1568.6 1130.2L1557.5 1175.9A332.5 332.5 0 0 0 1553 1174.8Z" fill="#8c7640"/>
<path d="M1587.4 1135.3A379.5 379.5 0 0 1 1592.5 1136.9L1578.4 1181.7A332.5 332.5 0 0 0 1574 1180.4Z" fill="#8c7640"/>
<path d="M1615.6 1144.9A379.5 379.5 0 0 1 1617.5 1145.7L1600.4 1189.4A332.5 332.5 0 0 0 1598.6 1188.8Z" fill="#7d1244"/>
<path d="M1660.9 1165.9A379.5 379.5 0 0 1 1667.4 1169.6L1644.1 1210.4A332.5 332.5 0 0 0 1638.4 1207.2Z" fill="#9d4b58"/>
<path d="M1677.7 1175.7A379.5 379.5 0 0 1 1683.1 1179L1657.8 1218.7A332.5 332.5 0 0 0 1653.1 1215.7Z" fill="#9d4b58"/>
<path d="M1673 1172.8A379.5 379.5 0 0 1 1674.8 1173.9L1650.6 1214.2A332.5 332.5 0 0 0 1649 1213.2Z" fill="#7d1244"/>
<path d="M1723.6 1208.8A379.5 379.5 0 0 1 1726.8 1211.6L1696.1 1247.2A332.5 332.5 0 0 0 1693.3 1244.8Z" fill="#8c7640"/>
<path d="M1748.7 1232.1A379.5 379.5 0 0 1 1750.6 1234L1717 1266.8A332.5 332.5 0 0 0 1715.3 1265.1Z" fill="#f4a3c2"/>
<path d="M1842.9 1391.5A379.5 379.5 0 0 1 1843.5 1393.5L1798.4 1406.6A332.5 332.5 0 0 0 1797.9 1404.8Z" fill="#7d1244"/>
<path d="M1826 1652.7A379.5 379.5 0 0 1 1823.8 1657.6L1781.1 1638A332.5 332.5 0 0 0 1783 1633.7Z" fill="#6e5c2c"/>
<path d="M1801.3 1699.4A379.5 379.5 0 0 1 1799 1703L1759.4 1677.8A332.5 332.5 0 0 0 1761.4 1674.6Z" fill="#8c7640"/>
<path d="M1752.6 1761.9A379.5 379.5 0 0 1 1750.4 1764.2L1716.8 1731.4A332.5 332.5 0 0 0 1718.7 1729.4Z" fill="#8c7640"/>
<path d="M1717.2 1766.3A358 358 0 0 1 1715.3 1768L1698.8 1749.2A333 333 0 0 0 1700.5 1747.6Z" fill="#f4a3c2"/>
<path d="M1699.7 1807.7A379.5 379.5 0 0 1 1698 1809L1670.8 1770.6A332.5 332.5 0 0 0 1672.4 1769.5Z" fill="#7d1244"/>
<path d="M1684.1 1818.3A379.5 379.5 0 0 1 1680.5 1820.6L1655.6 1780.7A332.5 332.5 0 0 0 1658.7 1778.7Z" fill="#8c7640"/>
<path d="M1645 1840.3A379.5 379.5 0 0 1 1642.1 1841.6L1621.9 1799.2A332.5 332.5 0 0 0 1624.5 1798Z" fill="#3d1424"/>
<path d="M1638.9 1843.2A379.5 379.5 0 0 1 1635 1844.9L1615.7 1802.1A332.5 332.5 0 0 0 1619.1 1800.5Z" fill="#8b8a52"/>
<path d="M1621 1850.9A379.5 379.5 0 0 1 1617 1852.5L1599.9 1808.7A332.5 332.5 0 0 0 1603.4 1807.3Z" fill="#6d3353"/>
<path d="M1553 1870.7A379 379 0 0 1 1550.9 1871.1L1546.2 1846.6A354 354 0 0 0 1548.1 1846.2Z" fill="#7d1244"/>
<path d="M1325.4 1846A379.5 379.5 0 0 1 1321.5 1844.3L1341 1801.5A332.5 332.5 0 0 0 1344.4 1803Z" fill="#8c7640"/>
<path d="M1309.2 1838.4A379.5 379.5 0 0 1 1305.4 1836.5L1326.9 1794.7A332.5 332.5 0 0 0 1330.2 1796.4Z" fill="#8c7640"/>
<path d="M1294.4 1830.6A379.5 379.5 0 0 1 1261.9 1810.3L1288.8 1771.7A332.5 332.5 0 0 0 1317.3 1789.5Z" fill="#b32a66"/>
<path d="M1262 1810.3A379.5 379.5 0 0 1 1258.5 1807.9L1285.8 1769.6A332.5 332.5 0 0 0 1288.9 1771.8Z" fill="#8c7640"/>
<path d="M1247.5 1799.7A379.5 379.5 0 0 1 1245.4 1798L1274.3 1761A332.5 332.5 0 0 0 1276.1 1762.4Z" fill="#f4a3c2"/>
<path d="M1218.3 1774.7A379.5 379.5 0 0 1 1216.3 1772.9L1248.9 1739A332.5 332.5 0 0 0 1250.5 1740.6Z" fill="#f4a3c2"/>
<path d="M1210.5 1767.2A379.5 379.5 0 0 1 1207.5 1764.2L1241.1 1731.3A332.5 332.5 0 0 0 1243.8 1734Z" fill="#8c7640"/>
<path d="M1194 1749.6A379.5 379.5 0 0 1 1191.2 1746.4L1226.8 1715.7A332.5 332.5 0 0 0 1229.3 1718.5Z" fill="#8c7640"/>
<path d="M1151.2 1690.2A379.5 379.5 0 0 1 1150.1 1688.4L1190.9 1664.9A332.5 332.5 0 0 0 1191.8 1666.6Z" fill="#7d1244"/>
<path d="M1139.7 1668.9A379.5 379.5 0 0 1 1137.3 1664.2L1179.6 1643.7A332.5 332.5 0 0 0 1181.7 1647.9Z" fill="#8c7640"/>
<path d="M1127.9 1643A379.5 379.5 0 0 1 1125.9 1638.1L1169.6 1620.8A332.5 332.5 0 0 0 1171.4 1625.2Z" fill="#8c7640"/>
<path d="M1117.5 1614.4A379.5 379.5 0 0 1 1115.9 1609.3L1160.9 1595.6A332.5 332.5 0 0 0 1162.2 1600.1Z" fill="#8c7640"/>
<path d="M1111.2 1592.6A379.5 379.5 0 0 1 1109.7 1586.4L1155.4 1575.6A332.5 332.5 0 0 0 1156.8 1581Z" fill="#6e5c2c"/>
<path d="M1101.3 1535.6A379.5 379.5 0 0 1 1101 1532.5L1147.8 1528.3A332.5 332.5 0 0 0 1148.1 1531.1Z" fill="#cf7f97"/>
<path d="M1100.5 1471.5A379.5 379.5 0 0 1 1101.2 1463L1148 1467.5A332.5 332.5 0 0 0 1147.4 1474.9Z" fill="#94656a"/>
<path d="M1152.4 1305.7A379.5 379.5 0 0 1 1161.4 1291.3L1200.7 1317A332.5 332.5 0 0 0 1192.8 1329.7Z" fill="#ad2860"/>
<path d="M1160.9 1292A379.5 379.5 0 0 1 1162.7 1289.3L1201.9 1315.3A332.5 332.5 0 0 0 1200.3 1317.6Z" fill="#f4a3c2"/>
<path d="M1183.2 1261.3A379.5 379.5 0 0 1 1185.8 1258L1222.1 1287.9A332.5 332.5 0 0 0 1219.8 1290.8Z" fill="#6e5c2c"/>
<path d="M1195.9 1246.3A379.5 379.5 0 0 1 1201.6 1240L1236 1272A332.5 332.5 0 0 0 1231 1277.6Z" fill="#8c7640"/>
<path d="M1220.3 1221.3A379.5 379.5 0 0 1 1223.5 1218.4L1255.1 1253.2A332.5 332.5 0 0 0 1252.4 1255.7Z" fill="#8c7640"/>
<path d="M1248.2 1197.8A379.5 379.5 0 0 1 1249.9 1196.5L1278.3 1233.9A332.5 332.5 0 0 0 1276.8 1235.1Z" fill="#7d1244"/>
<path d="M1269.5 1182.5A379.5 379.5 0 0 1 1274 1179.6L1299.4 1219.2A332.5 332.5 0 0 0 1295.5 1221.7Z" fill="#8c7640"/>
<path d="M1295.9 1166.6A379.5 379.5 0 0 1 1298.7 1165L1321.1 1206.4A332.5 332.5 0 0 0 1318.6 1207.7Z" fill="#e0608e"/>
<path d="M1308.1 1160.2A379.5 379.5 0 0 1 1314.8 1156.9L1335.1 1199.2A332.5 332.5 0 0 0 1329.3 1202.1Z" fill="#6f7b38"/>
<path d="M1378.6 1133A379.5 379.5 0 0 1 1386.8 1130.9L1398.2 1176.5A332.5 332.5 0 0 0 1391 1178.4Z" fill="#9d4b58"/>
<path d="M1400.5 1127.7A379.5 379.5 0 0 1 1408.8 1126L1417.5 1172.2A332.5 332.5 0 0 0 1410.2 1173.7Z" fill="#4f8a2a"/>
<path d="M1419 1124.3A379.5 379.5 0 0 1 1426.2 1123.2L1432.7 1169.7A332.5 332.5 0 0 0 1426.4 1170.7Z" fill="#5a1238"/>
</g>
<text x="1463.8" y="1488.5" text-anchor="middle" font-size="36.1" fill="#151515">Rhizobium tropici '10ap3'</text>
<text x="1476.6" y="1535.5" text-anchor="middle" font-size="29.7" fill="#151515">6 297 373 bp</text>
<g id="leaders" fill="none">
<line x1="1122.5" y1="155.5" x2="1367.8" y2="755.3" stroke="#9c9c9c" stroke-width="2.2"/>
<line x1="990" y1="202.9" x2="1365.9" y2="755.6" stroke="#9c9c9c" stroke-width="2.2"/>
<line x1="888" y1="249" x2="1364" y2="755.9" stroke="#9c9c9c" stroke-width="2.2"/>
<line x1="801" y1="300" x2="1362" y2="756.2" stroke="#9c9c9c" stroke-width="2.2"/>
<line x1="727.5" y1="345.9" x2="1360.1" y2="756.5" stroke="#7a7a7a" stroke-width="2"/>
<line x1="659.5" y1="394.7" x2="1358.1" y2="756.8" stroke="#7a7a7a" stroke-width="2"/>
<line x1="601.5" y1="441.7" x2="1356.2" y2="757.1" stroke="#2e2e2e" stroke-width="1.9" stroke-dasharray="4.5 3.5"/>
<line x1="547" y1="490.2" x2="1354.2" y2="757.4" stroke="#2e2e2e" stroke-width="1.9" stroke-dasharray="4.5 3.5"/>
<line x1="499.5" y1="540" x2="1352.3" y2="757.8" stroke="#2e2e2e" stroke-width="1.9" stroke-dasharray="4.5 3.5"/>
<line x1="457" y1="589.9" x2="1350.4" y2="758.1" stroke="#2e2e2e" stroke-width="1.9" stroke-dasharray="4.5 3.5"/>
<line x1="416.8" y1="640.7" x2="1348.4" y2="758.4" stroke="#2e2e2e" stroke-width="1.9" stroke-dasharray="4.5 3.5"/>
<line x1="335.5" y1="754.2" x2="1327.8" y2="762.4" stroke="#3a3a3a" stroke-width="1.7"/>
<line x1="306" y1="804.5" x2="1303.4" y2="767.8" stroke="#3a3a3a" stroke-width="1.7"/>
<line x1="279.5" y1="853.7" x2="1279.3" y2="774" stroke="#3a3a3a" stroke-width="1.7"/>
<line x1="255.5" y1="902.6" x2="1249.1" y2="783" stroke="#3a3a3a" stroke-width="1.7"/>
<line x1="227.5" y1="963.9" x2="1089.4" y2="855.8" stroke="#3a3a3a" stroke-width="1.7"/>
<line x1="207" y1="1023.8" x2="864.5" y2="1065.5" stroke="#3a3a3a" stroke-width="1.7"/>
<line x1="378" y1="695" x2="1346.5" y2="758.8" stroke="#2e2e2e" stroke-width="1.9" stroke-dasharray="4.5 3.5"/>
<g stroke="#a3a3a3" stroke-width="2.6">
<line x1="864.5" y1="1065.5" x2="1016.5" y2="1172.7"/>
<line x1="1089.4" y1="855.8" x2="1185.8" y2="1014.9"/>
<line x1="1249.1" y1="783" x2="1306" y2="960.1"/>
<line x1="1279.3" y1="774" x2="1328.7" y2="953.3"/>
<line x1="1303.4" y1="767.8" x2="1346.9" y2="948.6"/>
<line x1="1327.8" y1="762.4" x2="1365.2" y2="944.6"/>
<line x1="1346.5" y1="758.8" x2="1379.3" y2="941.9"/>
<line x1="1348.4" y1="758.4" x2="1380.7" y2="941.6"/>
<line x1="1350.4" y1="758.1" x2="1382.2" y2="941.3"/>
<line x1="1352.3" y1="757.8" x2="1383.6" y2="941.1"/>
<line x1="1354.2" y1="757.4" x2="1385.1" y2="940.8"/>
<line x1="1356.2" y1="757.1" x2="1386.6" y2="940.6"/>
<line x1="1358.1" y1="756.8" x2="1388" y2="940.4"/>
<line x1="1360.1" y1="756.5" x2="1389.5" y2="940.1"/>
<line x1="1362" y1="756.2" x2="1390.9" y2="939.9"/>
<line x1="1364" y1="755.9" x2="1392.4" y2="939.7"/>
<line x1="1365.9" y1="755.6" x2="1393.9" y2="939.4"/>
<line x1="1367.8" y1="755.3" x2="1395.3" y2="939.2"/>
</g>
<polyline points="1366.8,98 1366.8,752 1371.2,786.1" stroke="#b4b4b4" stroke-width="3.4"/>
<line x1="1371.2" y1="786.1" x2="1394.4" y2="939.4" stroke="#8f8f8f" stroke-width="3"/>
<line x1="1742.5" y1="124" x2="1586.8" y2="786.1" stroke="#a9a9a9" stroke-width="2.6"/>
</g>
<g id="labels">
<rect x="893.1" y="117.1" width="227.3" height="37.3" rx="6.5" fill="url(#lg)" stroke="#9d9d9f" stroke-width="2.2"/>
<text class="lab" x="1006.8" y="145" text-anchor="middle">repeat region</text>
<rect x="836.1" y="168.1" width="151.8" height="36.8" rx="6.5" fill="url(#lg)" stroke="#9d9d9f" stroke-width="2.2"/>
<text class="lab" x="912" y="195.5" text-anchor="middle">contig35</text>
<rect x="658.1" y="218.1" width="227.8" height="36.8" rx="6.5" fill="url(#lg)" stroke="#9d9d9f" stroke-width="2.2"/>
<text class="lab" x="772" y="245.5" text-anchor="middle">repeat region</text>
<rect x="570.1" y="269.1" width="228.8" height="36.8" rx="6.5" fill="url(#lg)" stroke="#9d9d9f" stroke-width="2.2"/>
<text class="lab" x="684.5" y="296.5" text-anchor="middle">repeat region</text>
<rect x="574.1" y="320.1" width="151.3" height="36.3" rx="6.5" fill="url(#lg)" stroke="#9d9d9f" stroke-width="2.2"/>
<text class="lab" x="649.8" y="347" text-anchor="middle">contig32</text>
<rect x="428.1" y="370.1" width="229.3" height="36.8" rx="6.5" fill="url(#lg)" stroke="#9d9d9f" stroke-width="2.2"/>
<text class="lab" x="542.8" y="397.5" text-anchor="middle">repeat region</text>
<rect x="447.6" y="421.6" width="151.8" height="36.3" rx="6.5" fill="url(#lg)" stroke="#9d9d9f" stroke-width="2.2"/>
<text class="lab" x="523.5" y="448.5" text-anchor="middle">contig29</text>
<rect x="393.6" y="472.1" width="151.3" height="36.3" rx="6.5" fill="url(#lg)" stroke="#9d9d9f" stroke-width="2.2"/>
<text class="lab" x="469.2" y="499" text-anchor="middle">contig27</text>
<rect x="346.1" y="522.6" width="151.3" height="36.3" rx="6.5" fill="url(#lg)" stroke="#9d9d9f" stroke-width="2.2"/>
<text class="lab" x="421.8" y="549.5" text-anchor="middle">contig26</text>
<rect x="304.6" y="574.1" width="150.3" height="36.3" rx="6.5" fill="url(#lg)" stroke="#9d9d9f" stroke-width="2.2"/>
<text class="lab" x="379.8" y="601" text-anchor="middle">contig25</text>
<rect x="262.6" y="624.9" width="152.1" height="36.2" rx="6.5" fill="url(#lg)" stroke="#9d9d9f" stroke-width="2.2"/>
<text class="lab" x="338.6" y="651.7" text-anchor="middle">contig24</text>
<rect x="181.1" y="741.1" width="152.3" height="36.3" rx="6.5" fill="url(#lg)" stroke="#9d9d9f" stroke-width="2.2"/>
<text class="lab" x="257.2" y="768" text-anchor="middle">contig23</text>
<rect x="152.1" y="792.1" width="151.8" height="36.3" rx="6.5" fill="url(#lg)" stroke="#9d9d9f" stroke-width="2.2"/>
<text class="lab" x="228" y="819" text-anchor="middle">contig21</text>
<rect x="125.1" y="843.1" width="152.3" height="36.8" rx="6.5" fill="url(#lg)" stroke="#9d9d9f" stroke-width="2.2"/>
<text class="lab" x="201.2" y="870.5" text-anchor="middle">contig20</text>
<rect x="102.1" y="894.1" width="151.3" height="36.3" rx="6.5" fill="url(#lg)" stroke="#9d9d9f" stroke-width="2.2"/>
<text class="lab" x="177.8" y="921" text-anchor="middle">contig19</text>
<rect x="74.1" y="953.1" width="151.3" height="36.3" rx="6.5" fill="url(#lg)" stroke="#9d9d9f" stroke-width="2.2"/>
<text class="lab" x="149.8" y="980" text-anchor="middle">contig17</text>
<rect x="53.6" y="1010.1" width="151.3" height="36.8" rx="6.5" fill="url(#lg)" stroke="#9d9d9f" stroke-width="2.2"/>
<text class="lab" x="129.2" y="1037.5" text-anchor="middle">contig14</text>
</g>
<text class="pos" x="52" y="710.5">(6 244 536)</text>
<text class="enz" x="250.5" y="710.5">I-CeuI</text>
<text class="pos" x="1104.5" y="87.5">(6 297 373)</text>
<text class="se" x="1301" y="87.5">End</text>
<text class="se" x="1745" y="116.3">Start</text>
<text class="pos" x="1853" y="116.3">(0)</text>
</svg>
</body></html>
